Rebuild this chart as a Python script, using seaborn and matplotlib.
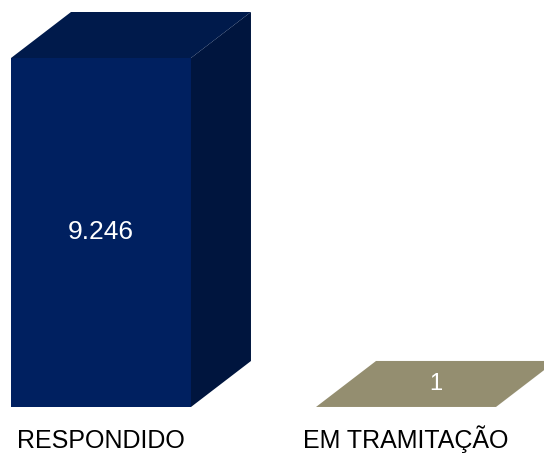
import matplotlib
matplotlib.use("Agg")
import matplotlib.pyplot as plt
import seaborn as sns
import pandas as pd
from matplotlib.patches import Polygon
from matplotlib.transforms import IdentityTransform, blended_transform_factory

categories = ["RESPONDIDO", "EM TRAMITAÇÃO"]
values = [9246, 1]

front_colors = ["#002060", "#948e70"]
top_colors = ["#001a4b", "#948e70"]
side_colors = ["#00153e", "#7d785e"]

sns.set_theme(style="white")
plt.rcParams["font.family"] = ["Liberation Sans", "DejaVu Sans"]

df = pd.DataFrame({"cat": categories, "val": values})

fig = plt.figure(figsize=(5.44, 4.54), dpi=100)
ax = fig.add_axes([0, 47 / 454, 1, 407 / 454])
sns.barplot(data=df, x="cat", y="val", hue="cat", palette=front_colors,
            width=0.59, legend=False, ax=ax, saturation=1, linewidth=0)

ax.set_xlim(-101 / 305, (544 - 101) / 305)
ax.set_ylim(0, 9246 * 407 / 349)
for s in ax.spines.values():
    s.set_visible(False)
ax.set_yticks([])
ax.set_xlabel("")
ax.set_ylabel("")
ax.set_xticks(range(len(categories)))
ax.set_xticklabels([])
ax.tick_params(axis="x", length=0)

# category labels aligned on a common baseline
trans = blended_transform_factory(ax.transData, ax.transAxes)
for i, c in enumerate(categories):
    ax.text(i, -41 / 407, c, transform=trans, ha="center", va="baseline",
            fontsize=18, color="black", clip_on=False)

dx, dy = 60, 46  # depth in pixels

fig.canvas.draw()
for i, p in enumerate(ax.patches[:len(values)]):
    x0, y0 = p.get_x(), p.get_y()
    x1, y1 = x0 + p.get_width(), y0 + p.get_height()
    (X0, Y0) = ax.transData.transform((x0, y0))
    (X1, Y1) = ax.transData.transform((x1, y1))
    top = Polygon([(X0, Y1), (X1, Y1), (X1 + dx, Y1 + dy), (X0 + dx, Y1 + dy)],
                  closed=True, transform=IdentityTransform(),
                  facecolor=top_colors[i], edgecolor="none", clip_on=False, zorder=1)
    side = Polygon([(X1, Y0), (X1, Y1), (X1 + dx, Y1 + dy), (X1 + dx, Y0 + dy)],
                   closed=True, transform=IdentityTransform(),
                   facecolor=side_colors[i], edgecolor="none", clip_on=False, zorder=1)
    fig.add_artist(side)
    fig.add_artist(top)
    label = f"{values[i]:,}".replace(",", ".")
    if p.get_height() > 1000:
        ax.text((x0 + x1) / 2, (y0 + y1) / 2, label, ha="center", va="center",
                color="white", fontsize=19, zorder=5)
    else:
        fig.text(((X0 + X1) / 2 + dx / 2) / fig.bbox.width,
                 (Y1 + dy / 2) / fig.bbox.height, label, ha="center", va="center",
                 color="white", fontsize=17, zorder=5)

fig.savefig("out.png", dpi=100)
